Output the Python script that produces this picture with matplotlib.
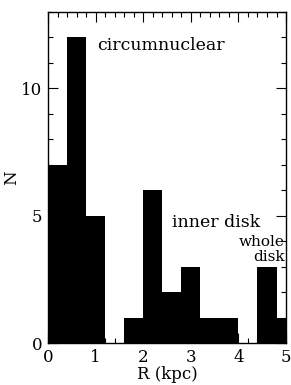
import matplotlib
matplotlib.use("Agg")
import matplotlib.pyplot as plt
from matplotlib.ticker import MultipleLocator

bin_edges = [0.0, 0.4, 0.8, 1.2, 1.6, 2.0, 2.4, 2.8, 3.2, 3.6, 4.0, 4.4, 4.8]
counts = [7, 12, 5, 0, 1, 6, 2, 3, 1, 1, 0, 3, 1]
bin_width = 0.4

plt.rcParams['font.family'] = ['DejaVu Serif']
fig = plt.figure(figsize=(2.91, 3.85), dpi=100)
ax = fig.add_axes([0.165, 0.109, 0.818, 0.860])
ax.bar(bin_edges, counts, width=bin_width, align='edge', color='black', linewidth=0)
ax.set_xlim(0, 5)
ax.set_ylim(0, 13)
ax.xaxis.set_major_locator(MultipleLocator(1))
ax.xaxis.set_minor_locator(MultipleLocator(0.2))
ax.yaxis.set_major_locator(MultipleLocator(5))
ax.yaxis.set_minor_locator(MultipleLocator(1))
ax.tick_params(which='both', direction='in', top=True, right=True, labelsize=12, width=0.8)
ax.tick_params(which='major', length=7, pad=4)
ax.tick_params(which='minor', length=3.5)
for s in ax.spines.values():
    s.set_linewidth(1.0)
ax.set_xlabel('R (kpc)', fontsize=12, labelpad=0)
ax.set_ylabel('N', fontsize=12, labelpad=1)
ax.text(1.04, 11.7, 'circumnuclear', fontsize=12.5, va='center', ha='left')
ax.text(2.6, 4.73, 'inner disk', fontsize=12.5, va='center', ha='left')
ax.text(4.97, 3.95, 'whole', fontsize=11, va='center', ha='right')
ax.text(4.97, 3.38, 'disk', fontsize=11, va='center', ha='right')
fig.savefig('out.png', dpi=100)
